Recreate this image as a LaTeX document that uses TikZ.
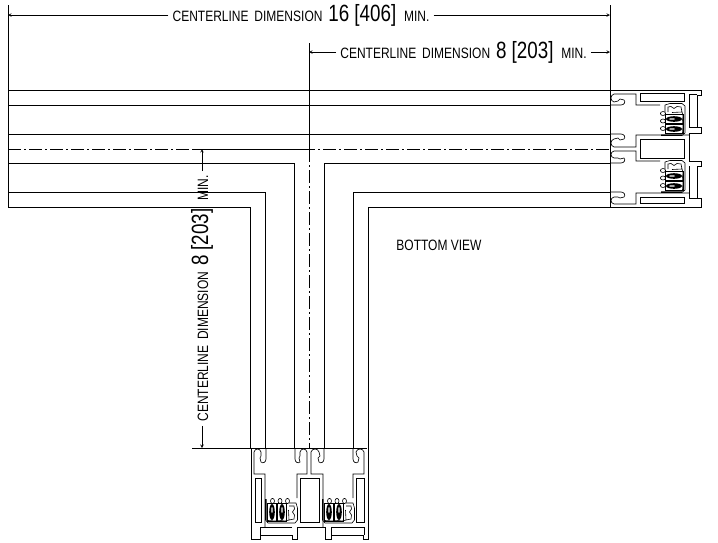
\documentclass[tikz,border=0pt]{standalone}
\usepackage{fontspec}
\setmainfont[FakeStretch=0.8]{Liberation Sans}
\newcommand{\dimtext}[2]{{\fontsize{15}{16}\selectfont CENTERLINE\hspace{2.5pt} DIMENSION\hspace{2.5pt} }{\fontsize{23.5}{24}\selectfont #1\hspace{2.5pt} }{\fontsize{15}{16}\selectfont #2}}
% one gasket stack, drawn where the upper one of the end view sits
\newcommand{\gasketstack}{
  \draw [gasket] (665,112) -- (665,105) -- (670,103.5) -- (682,103.5) -- (685,106) -- (685,133) -- (682,135.5) -- (661,135.5);
  \draw [gasket] (668,112) -- (668,107) -- (671,106.5) -- (674,108.5) -- (677,106.5) -- (681,107) -- (682,112) -- (672,112.5);
  \draw [gasket] (682,112) -- (683,116) -- (682.5,120) -- (683,125) -- (682.5,133);
  \foreach \midy in {113.5,121,128.5} {
    \draw [gasket] (663,\midy) ellipse (2.6 and 2);
  }
  \foreach \midy in {119,129} {
    \draw [gasket] (665.5,\midy-4.5) rectangle (683,\midy+4.5);
    \fill (674,\midy) ellipse (8 and 2.8);
    \fill [white] (672,\midy) ellipse (3 and 0.7);
  }
  \draw [line width=1.6pt, black!65] (661,134.5) -- (683,134.5);
}
% the whole extrusion, coordinates as in the end view at the right
\newcommand{\extrusion}{
  \draw [outline] (610,90) -- (701,90) -- (701,95) -- (697,95) -- (697,127) -- (701,127) -- (701,133) -- (689,133) -- (689,161) -- (701,161) -- (701,166) -- (697,166) -- (697,198) -- (701,198) -- (701,207) -- (610,207);
  \draw [outline] (697,94) -- (689,94) -- (689,127) -- (697,127);
  \draw [outline] (689,166) -- (689,198) -- (697,198);
  % hooks
  \draw [outline] (660,105) -- (636,105) -- (636,94) -- (614,94) .. controls (610,95) and (610,101) .. (614,102) -- (618,101) -- (620,99) -- (624,100) .. controls (626,102) and (624,105) .. (621,105) -- (610,105);
  \draw [outline] (689,135) -- (636,135) -- (636,147) -- (614,147) .. controls (610,146) and (610,140) .. (614,139) -- (618,138) -- (620,140) -- (624,139) .. controls (626,137) and (624,134) .. (621,134) -- (610,134);
  \draw [outline] (660,161) -- (636,161) -- (636,151) -- (614,151) .. controls (610,152) and (610,157) .. (614,158) -- (618,158) -- (620,159) -- (624,158) .. controls (626,160) and (624,163) .. (621,163) -- (610,163);
  \draw [outline] (689,193) -- (636,193) -- (636,204) -- (614,204) .. controls (610,203) and (610,198) .. (614,197) -- (618,197) -- (620,198) -- (624,197) .. controls (626,195) and (624,192) .. (621,192) -- (610,192);
  % hollows
  \draw [outline, line width=0.9pt] (640,93.5) rectangle (684,101.5);
  \draw [outline, line width=0.9pt] (640,139) rectangle (684,158);
  \draw [outline, line width=0.9pt] (640,197) rectangle (684,203);
  \gasketstack
  \begin{scope}[shift={(0,57)}]
    \gasketstack
  \end{scope}
}
\begin{document}
\begin{tikzpicture}[x=1pt, y=-1pt, line width=0.75pt,
outline/.style={line width=0.65pt},
gasket/.style={line width=0.6pt},
dimline/.style={->, >=stealth, line width=0.6pt},
centerline/.style={line width=0.6pt, dash pattern=on 13pt off 3pt on 2pt off 3pt},
dimlabel/.style={inner xsep=4pt, inner ysep=1pt}]
\useasboundingbox (0,0) rectangle (718,542);
\def\posLeft{8}
\def\posMid{309}
\def\posEnd{610}
\def\posCut{448}
% witness lines
\draw (\posLeft,5) -- (\posLeft,207);
\draw (\posEnd,5) -- (\posEnd,207);
\draw (\posMid,43) -- (\posMid,149);
\draw (192,149) -- (305,149);
\draw (192,\posCut) -- (367,\posCut);
% the run and the branch
\foreach \rail in {90,105,134} {
  \draw (\posLeft,\rail) -- (\posEnd,\rail);
}
\foreach \rail/\off in {163/15, 192/44, 207/59} {
  \draw (\posLeft,\rail) -| ({\posMid-\off},\posCut);
  \draw (\posEnd,\rail) -| ({\posMid+\off},\posCut);
}
\draw [centerline] (\posLeft,149) -- (\posEnd,149);
\draw [centerline] (\posMid,149) -- (\posMid,\posCut);
\extrusion
\begin{scope}[shift={(\posMid,\posCut)}, rotate=-90, shift={(-\posEnd,-149)}]
  \extrusion
\end{scope}
% dimensions
\coordinate (longLeft) at (\posLeft,15);
\coordinate (longRight) at (\posEnd,15);
\coordinate (shortLeft) at (\posMid,52);
\coordinate (shortRight) at (\posEnd,52);
\coordinate (vertTop) at (202,149);
\coordinate (vertBottom) at (202,\posCut);
\node [dimlabel] (lblLong) at (301,15) {\dimtext{16 [406]}{MIN.}};
\node [dimlabel] (lblShort) at (463.5,52) {\dimtext{8 [203]}{MIN.}};
\node [dimlabel, rotate=90] (lblVert) at (202,298.5) {\dimtext{8 [203]}{MIN.}};
\node [font=\fontsize{15}{16}\selectfont] (lblView) at (439,245) {BOTTOM VIEW};
\foreach \from/\to in {lblLong/longLeft, lblLong/longRight, lblShort/shortLeft, lblShort/shortRight, lblVert/vertTop, lblVert/vertBottom} {
  \draw [dimline] (\from) -- (\to);
}
\end{tikzpicture}
\end{document}
